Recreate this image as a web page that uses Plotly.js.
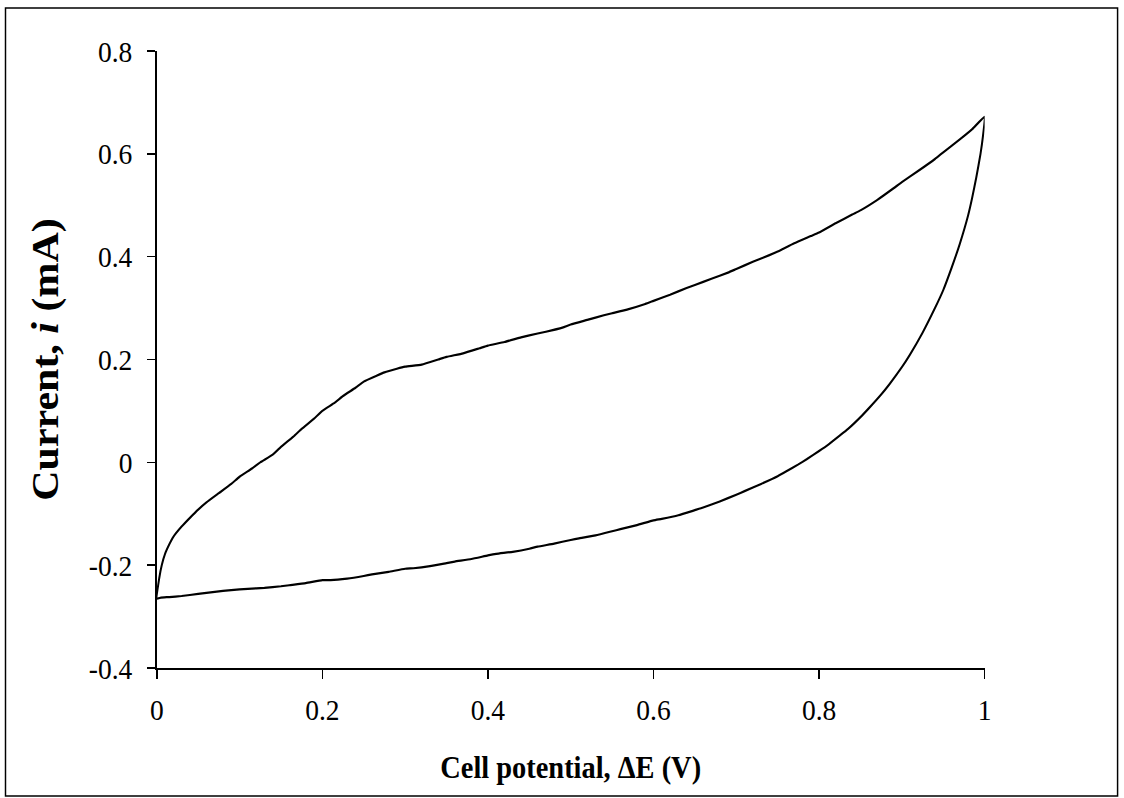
<!DOCTYPE html>
<html>
<head>
<meta charset="utf-8">
<script src="https://cdn.plot.ly/plotly-3.0.1.min.js"></script>
<style>
html,body{margin:0;padding:0;background:#fff;overflow:hidden;width:1124px;height:798px;}
#chart{width:1226px;height:798px;transform:scaleX(0.9168);transform-origin:0 0;}
</style>
</head>
<body>
<div id="chart"></div>
<script>
// Forward scan (upper branch), potential in V and current in mA
const forwardE = [0, 0.003, 0.006, 0.01, 0.015, 0.02, 0.03, 0.04, 0.05, 0.06, 0.075, 0.09, 0.1, 0.115, 0.125, 0.14, 0.15, 0.165, 0.175, 0.19, 0.2, 0.215, 0.225, 0.24, 0.25, 0.265, 0.275, 0.29, 0.3, 0.32, 0.34, 0.35, 0.37, 0.39, 0.4, 0.42, 0.44, 0.45, 0.47, 0.49, 0.5, 0.52, 0.54, 0.55, 0.57, 0.59, 0.6, 0.62, 0.64, 0.65, 0.67, 0.69, 0.7, 0.72, 0.74, 0.75, 0.77, 0.79, 0.8, 0.82, 0.84, 0.85, 0.87, 0.89, 0.9, 0.92, 0.94, 0.95, 0.97, 0.985, 1.0];
const forwardI = [-0.265, -0.225, -0.2, -0.178, -0.16, -0.145, -0.125, -0.108, -0.092, -0.078, -0.06, -0.042, -0.028, -0.012, 0.0, 0.015, 0.03, 0.05, 0.065, 0.085, 0.1, 0.116, 0.129, 0.145, 0.157, 0.168, 0.175, 0.182, 0.186, 0.19, 0.2, 0.205, 0.212, 0.222, 0.227, 0.234, 0.243, 0.247, 0.254, 0.262, 0.268, 0.277, 0.286, 0.29, 0.298, 0.308, 0.314, 0.326, 0.339, 0.345, 0.357, 0.369, 0.376, 0.39, 0.403, 0.41, 0.426, 0.44, 0.447, 0.465, 0.482, 0.49, 0.51, 0.533, 0.545, 0.567, 0.59, 0.603, 0.628, 0.648, 0.672];
// Reverse scan (lower branch)
const reverseE = [1.0, 0.998, 0.995, 0.99, 0.985, 0.98, 0.97, 0.96, 0.95, 0.94, 0.925, 0.91, 0.9, 0.885, 0.875, 0.86, 0.85, 0.835, 0.825, 0.81, 0.8, 0.785, 0.775, 0.76, 0.75, 0.73, 0.71, 0.7, 0.68, 0.66, 0.65, 0.63, 0.61, 0.6, 0.58, 0.56, 0.55, 0.53, 0.51, 0.5, 0.48, 0.46, 0.45, 0.43, 0.41, 0.4, 0.38, 0.36, 0.35, 0.33, 0.31, 0.3, 0.28, 0.26, 0.25, 0.23, 0.21, 0.2, 0.18, 0.16, 0.15, 0.13, 0.11, 0.1, 0.08, 0.06, 0.05, 0.03, 0.015, 0.005, 0];
const reverseI = [0.672, 0.635, 0.6, 0.555, 0.515, 0.48, 0.425, 0.378, 0.335, 0.3, 0.252, 0.21, 0.185, 0.152, 0.132, 0.105, 0.088, 0.065, 0.052, 0.033, 0.022, 0.006, -0.004, -0.018, -0.027, -0.042, -0.056, -0.063, -0.076, -0.088, -0.093, -0.103, -0.11, -0.113, -0.122, -0.13, -0.134, -0.142, -0.148, -0.151, -0.158, -0.164, -0.168, -0.174, -0.178, -0.181, -0.188, -0.193, -0.196, -0.202, -0.206, -0.207, -0.213, -0.218, -0.221, -0.226, -0.229, -0.229, -0.235, -0.239, -0.241, -0.244, -0.246, -0.247, -0.25, -0.254, -0.256, -0.26, -0.262, -0.263, -0.265];

const xTickVals = [0, 0.2, 0.4, 0.6, 0.8, 1];
const xTickText = ["0", "0.2", "0.4", "0.6", "0.8", "1"];
const yTickVals = [-0.4, -0.2, 0, 0.2, 0.4, 0.6, 0.8];
const yTickText = ["-0.4", "-0.2", "0", "0.2", "0.4", "0.6", "0.8"];

const E = forwardE.concat(reverseE.slice(1));
const I = forwardI.concat(reverseI.slice(1));

const FONT = "'Liberation Serif', 'Times New Roman', serif";

const trace = {
  x: E, y: I, type: 'scatter', mode: 'lines',
  line: {color: '#000', width: 2.2, shape: 'spline', smoothing: 0.4},
  hoverinfo: 'skip', showlegend: false
};

const L = 171, R = 1074, T = 51, B = 668, W = 1226, H = 798;
const px2x = p => (p - L) / (R - L);
const px2y = p => (B - p) / (B - T);

const layout = {
  width: W, height: H,
  margin: {l: L, r: W - R, t: T, b: H - B, pad: 0},
  paper_bgcolor: '#fff', plot_bgcolor: '#fff',
  font: {family: FONT, color: '#000', size: 30},
  showlegend: false,
  xaxis: {
    range: [0, 1], tickvals: xTickVals, ticktext: xTickText,
    showline: true, linecolor: '#000', linewidth: 1.6, mirror: false,
    ticks: 'outside', ticklen: 9, tickwidth: 1.6, tickcolor: '#000',
    showgrid: false, zeroline: false, fixedrange: true,
    tickfont: {family: FONT, size: 30, color: '#000'},
    ticklabelstandoff: 5,
    title: {text: 'Cell potential, ΔE (V)', font: {family: FONT, size: 31, color: '#000', weight: 'bold'}, standoff: 32}
  },
  yaxis: {
    range: [-0.4, 0.8], tickvals: yTickVals, ticktext: yTickText,
    showline: true, linecolor: '#000', linewidth: 1.6, mirror: false,
    ticks: 'outside', ticklen: 9, tickwidth: 1.6, tickcolor: '#000',
    showgrid: false, zeroline: false, fixedrange: true,
    tickfont: {family: FONT, size: 30, color: '#000'},
    ticklabelstandoff: 10,
    title: {text: 'Current, <i>i</i> (mA)\u00a0\u00a0', font: {family: FONT, size: 42, color: '#000', weight: 'bold'}, standoff: 20}
  },
  shapes: [{
    type: 'rect', xref: 'paper', yref: 'paper', layer: 'below',
    x0: px2x(6), x1: px2x(1219), y0: px2y(796), y1: px2y(8),
    line: {color: '#000', width: 1.6}, fillcolor: 'rgba(0,0,0,0)'
  }]
};

Plotly.newPlot('chart', [trace], layout, {staticPlot: true, displayModeBar: false});
</script>
</body>
</html>
